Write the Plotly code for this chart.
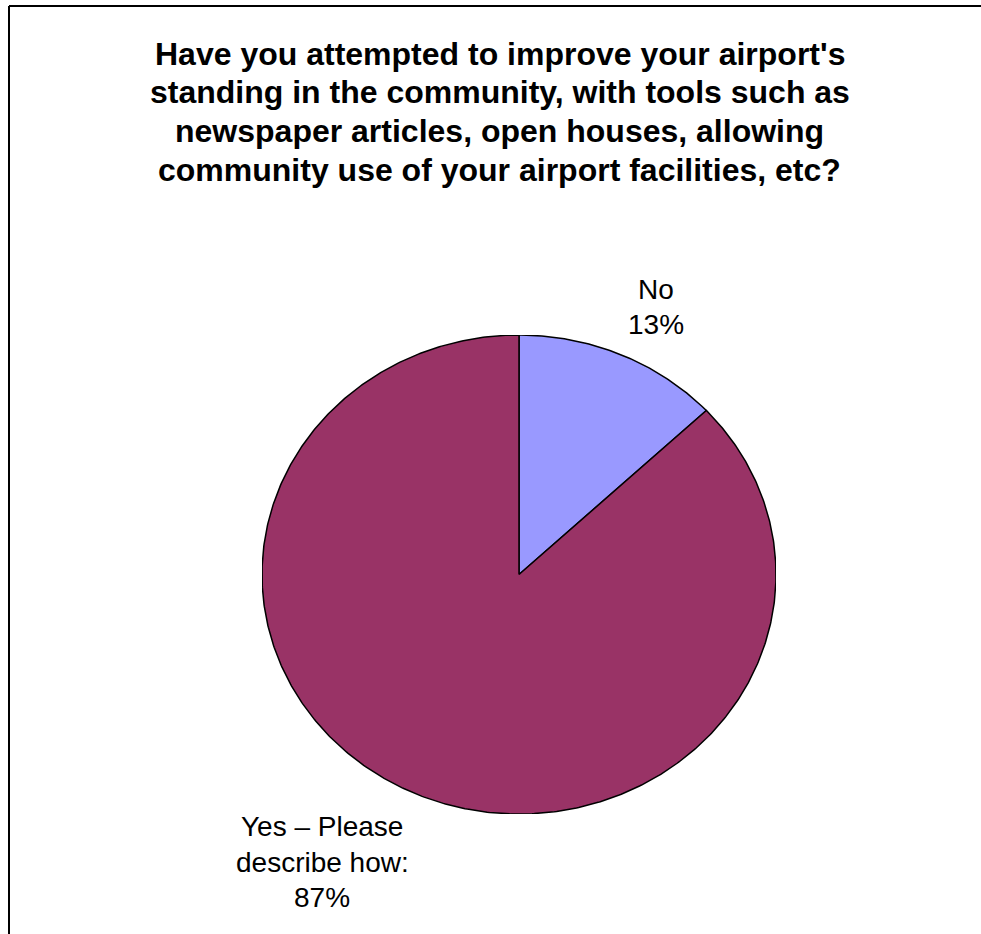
import numpy as np
import plotly.graph_objects as go

# Survey responses
categories = ["No", "Yes \u2013 Please describe how:"]
label_lines = [["No"], ["Yes \u2013 Please", "describe how:"]]
shares = [13, 87]
slice_colors = ["#9999FF", "#993366"]

title_lines = [
    "Have you attempted to improve your airport's",
    "standing in the community, with tools such as",
    "newspaper articles, open houses, allowing",
    "community use of your airport facilities, etc?",
]

W, H = 981, 934
FONT = "Liberation Sans, Arial, sans-serif"
total = sum(shares)
pct = [round(100 * v / total) for v in shares]

# Pie wedges drawn on a unit circle in data space; the axes domains
# stretch it to the slightly flattened ellipse of the chart area.
fig = go.Figure()
start = 0.0
for cat, v, col in zip(categories, shares, slice_colors):
    frac = v / total
    th = np.linspace(start, start + frac, max(int(frac * 720), 8)) * 2 * np.pi
    xs = np.concatenate([[0], np.sin(th), [0]])
    ys = np.concatenate([[0], np.cos(th), [0]])
    fig.add_trace(
        go.Scatter(
            x=xs, y=ys, mode="lines", fill="toself", fillcolor=col,
            line=dict(color="black", width=1.5), name=cat,
            hoveron="fills", hoverinfo="name",
        )
    )
    start += frac

# Pixel centres of each label line, per category
label_px = [
    [(656, 289), (656, 325)],
    [(322, 826), (322, 862), (322, 897)],
]
annotations = []
for lines, p, pos in zip(label_lines, pct, label_px):
    for txt, (px, py) in zip(lines + [f"{p}%"], pos):
        annotations.append(
            dict(
                x=px / W, y=1 - py / H, xref="paper", yref="paper",
                text=txt, showarrow=False, xanchor="center", yanchor="middle",
                font=dict(family=FONT, size=28, color="black"),
            )
        )

title_y = [54, 92.5, 131, 169.5]
for txt, py in zip(title_lines, title_y):
    annotations.append(
        dict(
            x=500 / W, y=1 - py / H, xref="paper", yref="paper",
            text=f"<b>{txt}</b>", showarrow=False,
            xanchor="center", yanchor="middle",
            font=dict(family=FONT, size=32, color="black"),
        )
    )

fig.update_layout(
    width=W, height=H,
    margin=dict(l=0, r=0, t=0, b=0),
    paper_bgcolor="white", plot_bgcolor="white",
    showlegend=False,
    annotations=annotations,
    xaxis=dict(domain=[262 / W, 776 / W], range=[-1, 1], visible=False,
               fixedrange=True),
    yaxis=dict(domain=[1 - 814 / H, 1 - 335 / H], range=[-1, 1], visible=False,
               fixedrange=True),
    shapes=[
        dict(type="line", xref="paper", yref="paper",
             x0=9 / W, x1=9 / W, y0=0, y1=1 - 6 / H,
             line=dict(color="black", width=2)),
        dict(type="line", xref="paper", yref="paper",
             x0=9 / W, x1=1, y0=1 - 6 / H, y1=1 - 6 / H,
             line=dict(color="black", width=2)),
    ],
)

fig.write_html(
    "out.html",
    config=dict(displayModeBar=False),
    post_script="document.body.style.margin='0';document.body.style.overflow='hidden';",
)
